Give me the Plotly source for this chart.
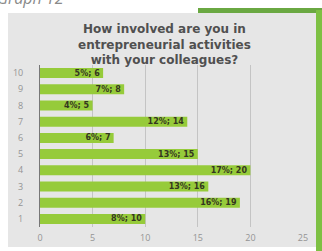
import plotly.graph_objects as go

categories = [1, 2, 3, 4, 5, 6, 7, 8, 9, 10]
counts = [10, 19, 16, 20, 15, 7, 14, 5, 8, 6]
percents = [8, 16, 13, 17, 13, 6, 12, 4, 7, 5]
labels = [f"{p}%; {c}" for p, c in zip(percents, counts)]
x_ticks = [0, 5, 10, 15, 20, 25]

fig = go.Figure()
fig.add_trace(go.Bar(
    x=counts, y=categories, orientation="h", width=0.62,
    marker=dict(color="#96cb3a", line=dict(width=0)),
    text=labels, textposition="inside", insidetextanchor="end", constraintext="none",
    textfont=dict(family="DejaVu Sans", size=8, color="#34361f", weight="bold"),
    cliponaxis=False,
))

W, H = 322, 251
L, R, T, B = 40, 19, 65, 24
PW, PH = W - L - R, H - T - B
def px(x): return (x - L) / PW
def py(y): return (H - B - y) / PH

shapes = [
    dict(type="rect", xref="paper", yref="paper", x0=px(8), x1=px(318), y0=py(247), y1=py(13),
         fillcolor="#e6e6e6", line=dict(width=0), layer="below"),
    dict(type="rect", xref="paper", yref="paper", x0=px(198), x1=px(322), y0=py(13), y1=py(8),
         fillcolor="#6aa842", line=dict(width=0), layer="below"),
    dict(type="rect", xref="paper", yref="paper", x0=px(316), x1=px(322), y0=py(251), y1=py(10),
         fillcolor="#7dc043", line=dict(width=0), layer="below"),
]

fig.update_layout(
    width=W, height=H,
    margin=dict(l=L, r=R, t=T, b=B, autoexpand=False),
    paper_bgcolor="white", plot_bgcolor="rgba(0,0,0,0)",
    showlegend=False,
    shapes=shapes,
    annotations=[
        dict(text="<b>How involved are you in<br>entrepreneurial activities<br>with your colleagues?</b>",
             xref="paper", yref="paper", x=px(164), y=py(20), xanchor="center", yanchor="top",
             showarrow=False, align="center",
             font=dict(family="DejaVu Sans", size=12, color="#505050")),
        dict(text="<i>Graph 12</i>", xref="paper", yref="paper", x=px(-5), y=py(11),
             xanchor="left", yanchor="bottom", showarrow=False,
             font=dict(family="Open Sans", size=16, color="#8a8a8a")),
    ],
    xaxis=dict(range=[0, 25], tickvals=x_ticks, showgrid=True, gridcolor="#c4c4c4", gridwidth=1,
               zeroline=False, tickfont=dict(family="Open Sans", size=9, color="#949494"),
               ticks="", ticklabelstandoff=4, fixedrange=True, automargin=False),
    yaxis=dict(range=[0.5, 10.5], tickvals=categories, showgrid=False, zeroline=False,
               showline=True, linecolor="#777777", linewidth=1,
               tickfont=dict(family="Open Sans", size=9, color="#949494"),
               ticks="", ticklabelstandoff=14, fixedrange=True, automargin=False),
)

fig.write_html("out.html", config={"displayModeBar": False},
               post_script="document.body.style.margin='0';document.body.style.padding='0';")
